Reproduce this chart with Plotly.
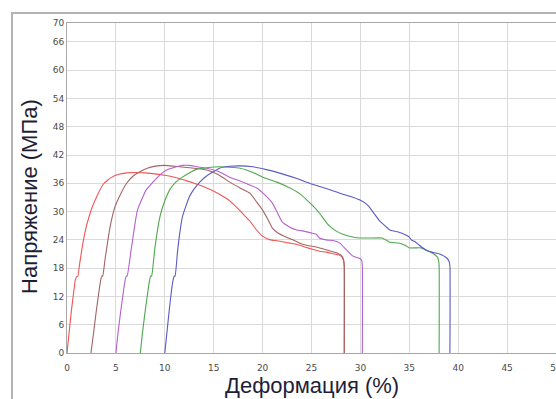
import plotly.graph_objects as go

# Strain (%) and stress (MPa) per specimen
red_x = [0, 0.2, 0.45, 0.75, 0.85, 1.0, 1.1, 1.3, 1.6, 2.0, 2.5, 3.0, 3.7, 4.5, 5.3, 6.1, 7.0, 8.0, 9.0, 10.0, 11.0, 12.0, 13.0, 14.3, 15.5, 16.5, 17.3, 18.0, 18.7, 19.3, 20.0, 20.8, 21.5, 22.3, 22.8, 23.5, 24.3, 25.1, 25.8, 26.5, 27.3, 27.8, 28.1, 28.3, 28.35, 28.35]
red_y = [0, 4, 9, 14, 15.5, 16.2, 16.2, 19, 23, 27, 30.5, 33, 35.8, 37.2, 37.9, 38.2, 38.3, 38.2, 38.0, 37.7, 37.3, 36.7, 36.0, 35.0, 33.8, 32.5, 31.0, 29.5, 28.0, 26.3, 24.8, 24.0, 23.8, 23.5, 23.3, 23.0, 22.5, 22.0, 21.6, 21.4, 21.0, 20.8, 20.4, 19.5, 18, 0]

brown_x = [2.45, 2.7, 3.0, 3.3, 3.45, 3.55, 3.65, 3.9, 4.4, 4.9, 5.5, 6.1, 6.8, 7.4, 8.2, 9.2, 10.0, 11.0, 12.0, 13.0, 14.3, 15.5, 16.6, 17.7, 18.7, 19.4, 20.0, 20.5, 21.0, 21.6, 22.4, 23.1, 23.8, 24.6, 25.5, 26.3, 27.0, 27.6, 28.0, 28.25, 28.35, 28.35]
brown_y = [0, 4, 9, 13.5, 15.5, 16.3, 16.3, 20, 26.7, 31, 33.8, 36, 37.6, 38.4, 39.2, 39.7, 39.8, 39.6, 39.4, 39.2, 38.8, 37.8, 36.3, 35.0, 33.9, 32.0, 30.3, 28.5, 26.5, 25.4, 24.6, 24.0, 23.3, 22.8, 22.5, 22.0, 21.6, 21.2, 20.8, 20.0, 18.5, 0]

purple_x = [5.0, 5.2, 5.5, 5.8, 5.95, 6.05, 6.15, 6.6, 7.2, 8.1, 9.5, 10.3, 11.2, 11.8, 12.5, 13.3, 14.3, 15.5, 16.6, 17.7, 18.5, 19.4, 20.2, 21.0, 21.5, 22.0, 22.7, 23.5, 24.3, 25.1, 25.5, 25.8, 26.5, 27.3, 27.9, 28.6, 29.2, 29.7, 30.0, 30.15, 30.2, 30.2]
purple_y = [0, 4, 9, 13.5, 15.5, 16.3, 16.3, 22.5, 30.3, 34.6, 37.8, 38.9, 39.5, 39.8, 39.8, 39.5, 39.2, 38.5, 37.3, 36.5, 35.8, 35.0, 33.6, 31.8, 29.8, 27.8, 26.8, 26.1, 25.8, 25.4, 25.2, 24.4, 24.0, 23.8, 23.3, 21.8, 20.6, 20.2, 20.0, 19.5, 18.5, 0]

green_x = [7.5, 7.7, 8.0, 8.3, 8.45, 8.55, 8.65, 9.0, 9.5, 10.0, 10.5, 11.0, 11.8, 12.5, 13.3, 14.3, 15.6, 16.6, 17.7, 19.0, 20.0, 21.4, 22.8, 23.8, 24.5, 25.2, 25.8, 26.3, 26.8, 27.5, 28.2, 29.0, 29.9, 31.0, 32.2, 32.6, 33.0, 34.0, 34.6, 35.0, 35.6, 36.2, 36.8, 37.5, 37.9, 38.0, 38.05, 38.05]
green_y = [0, 4, 9, 13.5, 15.5, 16.3, 16.3, 22.5, 28.9, 32.3, 34.6, 36.0, 37.3, 38.2, 39.0, 39.3, 39.5, 39.4, 39.2, 38.3, 37.3, 36.3, 35.0, 33.8, 32.5, 31.1, 29.7, 28.3, 27.0, 25.9, 25.2, 24.7, 24.4, 24.4, 24.4, 24.0, 23.5, 23.3, 22.8, 22.3, 22.3, 22.3, 21.8, 21.0, 20.3, 19.5, 18.5, 0]

blue_x = [10.0, 10.2, 10.45, 10.7, 10.85, 10.95, 11.05, 11.3, 11.5, 11.8, 12.5, 13.0, 13.6, 14.3, 15.0, 15.6, 16.6, 17.7, 19.0, 20.4, 22.0, 23.5, 24.8, 26.0, 26.8, 27.9, 29.0, 29.9, 30.5, 30.9, 31.4, 31.9, 32.5, 33.0, 33.8, 34.7, 35.0, 35.2, 35.6, 36.0, 36.7, 37.3, 38.1, 38.8, 39.05, 39.15, 39.15]
blue_y = [0, 4, 9, 13.5, 15.5, 16.3, 16.3, 21.5, 25.0, 28.9, 33.1, 34.8, 36.3, 37.6, 38.5, 39.2, 39.6, 39.7, 39.5, 38.9, 38.0, 37.0, 36.0, 35.2, 34.7, 33.9, 33.2, 32.5, 31.8, 31.0, 29.6, 28.2, 27.0, 26.1, 25.7, 25.0, 24.6, 24.0, 23.6, 22.9, 21.8, 21.4, 21.0, 20.2, 19.5, 18.5, 0]

y_ticks = [0, 6, 12, 18, 24, 30, 36, 42, 48, 54, 60, 66, 70]
x_ticks = [0, 5, 10, 15, 20, 25, 30, 35, 40, 45, 50]

series = [
    (red_x, red_y, "#f25555"),
    (brown_x, brown_y, "#a46464"),
    (purple_x, purple_y, "#b462cc"),
    (green_x, green_y, "#4fa84f"),
    (blue_x, blue_y, "#5a5ac4"),
]

fig = go.Figure()
for xs, ys, c in series:
    fig.add_trace(go.Scatter(x=xs, y=ys, mode="lines",
                             line=dict(color=c, width=1.1, shape="spline", smoothing=0.4),
                             showlegend=False, hoverinfo="skip"))

tick_font = dict(family="DejaVu Sans", size=9, color="#4a4a4a")
fig.update_layout(
    width=556, height=399,
    margin=dict(l=67, r=0, t=23, b=46, pad=0),
    paper_bgcolor="white", plot_bgcolor="white",
    template="none",
    xaxis=dict(range=[0, 50], tickvals=x_ticks, ticktext=[str(v) for v in x_ticks],
               showgrid=True, gridcolor="#dadada", gridwidth=1,
               showline=True, linecolor="#a8a8a8", linewidth=1, mirror=True,
               zeroline=False, ticks="", tickfont=tick_font, automargin=False,
               ticklabelstandoff=6, ticklabeloverflow="allow",
               fixedrange=True),
    yaxis=dict(range=[0, 70], tickvals=y_ticks, ticktext=[str(v) for v in y_ticks],
               showgrid=True, gridcolor="#dadada", gridwidth=1,
               showline=True, linecolor="#a8a8a8", linewidth=1, mirror=True,
               zeroline=False, ticks="", tickfont=tick_font, automargin=False,
               fixedrange=True),
    shapes=[dict(type="rect", xref="paper", yref="paper",
                 x0=-0.1125, y0=-0.3, x1=1.2, y1=1.0303,
                 line=dict(color="#b4b4b4", width=2), layer="below")],
    annotations=[
        dict(text="Напряжение (МПа)", xref="paper", yref="paper",
             x=-0.0757, y=0.476, textangle=-90, showarrow=False,
             font=dict(family="Liberation Sans", size=22, color="#1e1e38"),
             xanchor="center", yanchor="middle"),
        dict(text="Деформация (%)", xref="paper", yref="paper",
             x=0.5, y=-0.097, showarrow=False,
             font=dict(family="Liberation Sans", size=22, color="#1e1e38"),
             xanchor="center", yanchor="middle"),
    ],
)

fig.write_html("out.html", config={"displayModeBar": False},
               post_script="document.body.style.margin='0';document.body.style.overflow='hidden';")
